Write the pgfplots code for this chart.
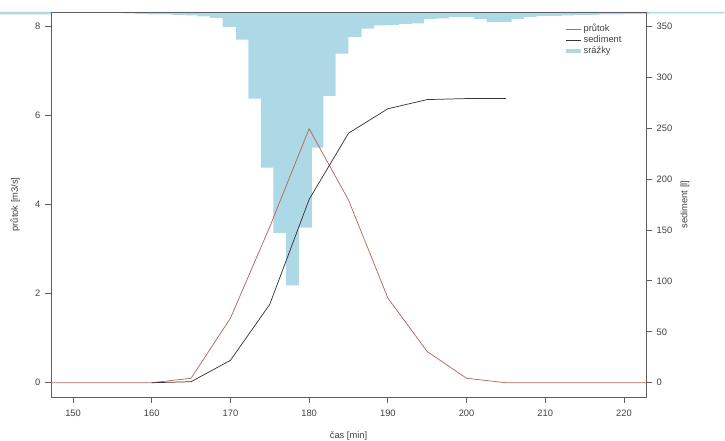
\documentclass[border=0pt]{standalone}
\usepackage{pgfplots}
\pgfplotsset{compat=1.18}
\usepackage{fontspec}
\setmainfont{Liberation Sans}
\usetikzlibrary{calc}

\definecolor{rain}{RGB}{173,216,230}
\definecolor{flow}{RGB}{185,100,90}
\definecolor{sed}{RGB}{55,55,55}
\definecolor{frame}{RGB}{95,95,95}

\pgfplotsset{
  base/.style={
    scale only axis, width=446.25pt, height=288.75pt,
    xmin=147.2, xmax=222.8,
    font=\fontsize{7}{8.4}\selectfont,
    /pgf/number format/assume math mode=true,
  },
}

% srazky: depth of each bar below the top of the box
\pgfplotstableread{
x depth
140.50 2.5
147.20 0
153.11 0.5
154.70 1
156.29 1.5
157.88 2
159.47 2.5
161.05 2.5
162.64 3
164.23 3.5
165.82 4.5
167.41 6
169.02 15
170.71 27.6
172.27 86.6
173.85 155.6
175.45 221
177.06 273.3
178.71 215.6
180.33 135.6
181.80 84
183.37 41.6
184.98 25
186.68 16.6
188.24 13.5
189.84 13
191.42 12
193.02 11.5
194.59 7
196.19 6.5
197.77 5
199.37 5
200.95 7
202.55 10
204.12 10
205.72 7
207.30 5
208.90 4
210.48 4
212.08 3.5
213.65 3
215.25 3
216.83 2.5
218.43 2.5
220.00 2
221.61 2
223.18 1.5
232.80 0
}\rain

\begin{document}
\begin{tikzpicture}
% srazky hanging from the top
\begin{axis}[base, hide axis, ymin=0, ymax=385, y dir=reverse, clip=false]
  \addplot[ybar interval, fill=rain, draw=none] table[x=x, y=depth] {\rain};
  % thin band left of the box
  \addplot[fill=rain, draw=none] coordinates {(140.5,0) (140.5,2.5) (147.2,2.5) (147.2,0)} -- cycle;
\end{axis}

% prutok, left axis
\begin{axis}[base,
    ymin=-0.32, ymax=8.32,
    axis line style={frame, line width=0.6pt},
    tick style={frame, line width=0.6pt},
    tick align=outside, major tick length=4.5pt, tick pos=left,
    xtick={150,160,...,220}, ytick={0,2,...,8},
    xlabel={čas [min]}, ylabel={průtok [m3/s]},
    xlabel style={at={(axis description cs:0.5,-0.101)}, anchor=center},
    ylabel style={at={(axis description cs:-0.0605,0.5)}, anchor=center},
    xticklabel style={yshift=-2pt},
    tick label style={text=black!75},
    label style={text=black!75},
  ]
  \addplot[flow, line width=0.55pt] coordinates {
    (145,0) (150,0) (155,0) (160,0) (165,0.1) (170,1.45) (175,3.5)
    (180,5.7) (185,4.1) (190,1.9) (195,0.7) (200,0.1) (205,0)
    (210,0) (215,0) (220,0) (225,0)};
\end{axis}

% sediment, right axis
\begin{axis}[base,
    ymin=-14, ymax=364,
    axis x line=none, axis y line*=right,
    axis line style={frame, line width=0.6pt},
    tick style={frame, line width=0.6pt},
    tick align=outside, major tick length=4.5pt,
    ytick={0,50,...,350},
    ylabel={sediment [l]},
    ylabel style={at={(axis description cs:1.0655,0.5)}, anchor=center, rotate=0},
    tick label style={text=black!75},
    label style={text=black!75},
    legend style={at={(axis description cs:0.862,0.969)}, anchor=north west,
      draw=none, fill=none, font=\fontsize{7}{8}\selectfont, text=black!75,
      row sep=0pt, inner sep=0pt,
      nodes={inner sep=0.6pt, text height=5.2pt, text depth=1.6pt}},
    legend cell align=left,
    legend image code/.code={\draw[#1] (0pt,0pt) -- (11pt,0pt);},
  ]
  \addlegendimage{flow, line width=0.55pt}
  \addlegendentry{průtok}
  \addplot[sed, line width=0.55pt] coordinates {
    (160,0) (165,1) (170,22) (175,77) (180,180) (185,245)
    (190,269) (195,278) (200,279) (205,279)};
  \addlegendentry{sediment}
  \addlegendimage{rain, line width=3pt}
  \addlegendentry{srážky}
\end{axis}

\pgfresetboundingbox
\path[use as bounding box]
  ($(current axis.south west)+(-38.25pt,-33pt)$) rectangle
  ($(current axis.north east)+(59.25pt,9pt)$);
\end{tikzpicture}
\end{document}
